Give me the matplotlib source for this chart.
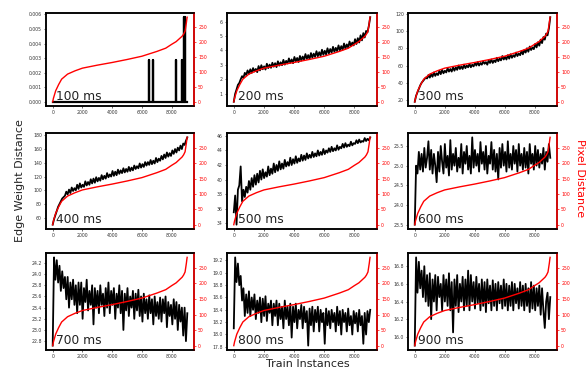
import numpy as np
import matplotlib
matplotlib.use("Agg")
import matplotlib.pyplot as plt

# ---------------- data ----------------
titles = ["100 ms", "200 ms", "300 ms", "400 ms", "500 ms",
          "600 ms", "700 ms", "800 ms", "900 ms"]

# red curve (pixel distance, sorted train instances)
red_x = [0, 50, 200, 400, 600, 1000, 1500, 2000, 3000, 4000, 5000, 6000,
         7000, 7600, 8000, 8300, 8500, 8700, 8800, 8900, 8950, 8990, 9020, 9040]
red_y = [0, 12, 37, 58, 76, 93, 104, 113, 123, 132, 142, 153,
         169, 180, 193, 202, 211, 220, 227, 237, 253, 266, 278, 284]

# 100 ms: almost all zero with a few spikes
spike_x = [6480, 6720, 8290, 8660, 8820, 8870]
spike_h = [0.0029, 0.0029, 0.0029, 0.0029, 0.0058, 0.0058]
last_instance = 9000

e200 = [0.45, 1.00, 1.30, 1.62, 1.75, 2.00, 2.22, 2.10, 2.45, 2.30,
        2.62, 2.38, 2.70, 2.45, 2.78, 2.55, 2.72, 2.50, 2.92, 2.62,
        2.98, 2.70, 2.90, 2.68, 3.08, 2.78, 3.02, 2.80, 3.15, 2.88,
        3.12, 2.85, 3.25, 2.95, 3.18, 2.98, 3.35, 3.02, 3.28, 3.10,
        3.45, 3.15, 3.38, 3.12, 3.55, 3.25, 3.48, 3.20, 3.62, 3.30,
        3.58, 3.35, 3.75, 3.42, 3.68, 3.40, 3.82, 3.50, 3.78, 3.55,
        3.95, 3.60, 3.88, 3.62, 4.05, 3.70, 3.98, 3.72, 4.15, 3.80,
        4.10, 3.85, 4.25, 3.90, 4.18, 3.95, 4.35, 4.00, 4.30, 4.05,
        4.48, 4.12, 4.42, 4.20, 4.62, 4.30, 4.55, 4.35, 4.78, 4.45,
        4.85, 4.55, 5.05, 4.70, 5.20, 4.90, 5.35, 5.25, 5.70, 6.30]

e300 = [18, 25, 29, 33, 37, 40, 42, 44, 46, 45,
        49, 46, 50, 47, 52, 48, 51, 49, 54, 50,
        55, 51, 54, 52, 57, 53, 56, 53, 58, 54,
        58, 55, 60, 56, 59, 56, 61, 57, 60, 58,
        62, 58, 61, 59, 63, 60, 64, 60, 63, 61,
        65, 62, 64, 61, 66, 63, 67, 63, 66, 64,
        69, 65, 68, 66, 71, 67, 70, 67, 72, 68,
        73, 69, 72, 70, 75, 71, 74, 72, 77, 73,
        78, 75, 80, 76, 82, 78, 81, 79, 85, 81,
        87, 83, 90, 86, 93, 90, 97, 95, 103, 116]

e400 = [50, 58, 64, 70, 76, 80, 84, 88, 90, 92,
        98, 94, 101, 96, 104, 99, 103, 100, 108, 102,
        110, 104, 108, 105, 113, 107, 112, 108, 116, 110,
        117, 111, 119, 113, 118, 114, 122, 116, 121, 117,
        125, 119, 123, 120, 128, 121, 127, 122, 130, 124,
        129, 125, 132, 126, 131, 127, 134, 128, 133, 129,
        136, 131, 135, 132, 139, 133, 138, 134, 141, 136,
        141, 137, 144, 138, 143, 139, 147, 141, 146, 143,
        150, 145, 152, 147, 155, 149, 154, 150, 158, 153,
        160, 155, 162, 158, 165, 160, 168, 166, 172, 177]

e500 = [35.5, 37.8, 33.8, 38.6, 39.2, 41.8, 37.0, 38.6, 37.6, 39.0,
        38.2, 39.8, 38.6, 40.2, 39.0, 40.6, 39.3, 40.8, 39.6, 41.2,
        40.0, 41.4, 40.2, 41.0, 40.4, 41.8, 40.6, 41.5, 40.8, 42.2,
        41.0, 42.0, 41.2, 42.5, 41.4, 42.2, 41.5, 42.7, 41.8, 42.4,
        41.9, 43.0, 42.0, 42.8, 42.2, 43.2, 42.3, 42.9, 42.5, 43.4,
        42.6, 43.3, 42.7, 43.6, 42.9, 43.4, 43.0, 43.8, 43.1, 43.6,
        43.2, 44.0, 43.3, 43.8, 43.4, 44.2, 43.5, 44.0, 43.7, 44.3,
        43.8, 44.5, 43.9, 44.3, 44.0, 44.7, 44.1, 44.5, 44.3, 44.9,
        44.4, 45.0, 44.5, 44.8, 44.6, 45.2, 44.7, 45.0, 44.9, 45.4,
        45.0, 45.5, 45.1, 45.3, 45.2, 45.7, 45.3, 45.6, 45.4, 45.8]

e600 = [23.50, 25.00, 24.80, 25.35, 24.90, 25.30, 24.85, 25.45, 24.95, 25.20,
        25.62, 24.90, 25.40, 24.80, 25.30, 25.00, 24.58, 25.35, 24.85, 25.50,
        25.10, 24.80, 25.55, 24.95, 25.25, 24.75, 25.65, 24.90, 25.30, 25.00,
        25.45, 24.85, 25.20, 24.95, 25.55, 24.80, 25.35, 25.05, 25.50, 24.90,
        25.25, 24.80, 25.72, 24.95, 25.40, 25.00, 25.30, 24.85, 25.60, 25.05,
        25.35, 24.90, 25.50, 24.80, 25.25, 25.05, 25.60, 24.90, 25.40, 24.85,
        25.30, 24.65, 25.45, 24.95, 25.55, 25.00, 25.35, 24.85, 25.62, 24.95,
        25.30, 24.90, 25.50, 25.05, 25.40, 24.85, 25.55, 25.00, 25.30, 24.90,
        25.45, 24.95, 25.35, 24.80, 25.55, 25.05, 25.30, 24.90, 25.50, 25.00,
        25.40, 24.95, 25.30, 25.05, 25.45, 24.90, 25.35, 25.10, 25.55, 25.20]

e700 = [22.72, 24.30, 23.90, 24.25, 23.85, 24.15, 23.70, 24.05, 23.75, 23.95,
        23.55, 23.95, 23.40, 23.85, 23.55, 23.90, 23.45, 23.80, 23.30, 23.85,
        23.45, 23.85, 23.20, 23.75, 23.50, 23.90, 23.35, 23.70, 23.45, 23.80,
        23.10, 23.75, 23.40, 23.70, 23.30, 23.80, 23.45, 23.65, 23.25, 23.75,
        23.40, 23.85, 23.30, 23.70, 23.45, 23.75, 23.20, 23.65, 23.40, 23.80,
        23.30, 23.70, 23.00, 23.65, 23.35, 23.75, 23.25, 23.60, 23.40, 23.70,
        23.20, 23.65, 23.35, 23.72, 23.25, 23.60, 23.15, 23.65, 23.30, 23.55,
        23.20, 23.62, 23.30, 23.55, 23.10, 23.60, 23.25, 23.50, 23.20, 23.58,
        23.15, 23.55, 23.30, 23.60, 23.05, 23.50, 23.25, 23.45, 23.10, 23.55,
        23.20, 23.50, 23.00, 23.45, 23.15, 23.40, 22.90, 23.40, 22.80, 23.30]

e800 = [18.10, 19.25, 18.85, 19.15, 18.80, 18.95, 18.55, 18.75, 18.30, 18.65,
        18.35, 18.70, 18.30, 18.60, 18.40, 18.65, 18.25, 18.55, 18.35, 18.60,
        18.20, 18.58, 18.30, 18.62, 18.22, 18.50, 18.35, 18.55, 18.15, 18.50,
        18.30, 18.55, 18.15, 18.50, 18.25, 18.45, 18.10, 18.55, 18.25, 18.45,
        18.15, 18.50, 17.95, 18.45, 18.20, 18.50, 18.10, 18.40, 18.25, 18.48,
        18.10, 18.45, 18.20, 18.38, 17.82, 18.42, 18.15, 18.45, 18.05, 18.40,
        18.20, 18.45, 18.05, 18.40, 18.20, 18.35, 17.85, 18.42, 18.15, 18.38,
        18.10, 18.40, 18.20, 18.35, 18.05, 18.45, 18.15, 18.38, 18.00, 18.40,
        18.20, 18.35, 18.05, 18.42, 18.15, 18.30, 18.00, 18.38, 18.18, 18.35,
        18.05, 18.40, 18.15, 18.30, 17.85, 18.35, 18.00, 18.38, 18.20, 18.40]

e900 = [15.90, 16.90, 16.50, 16.85, 16.55, 16.75, 16.45, 16.80, 16.40, 16.70,
        16.35, 16.72, 16.20, 16.65, 16.40, 16.70, 16.30, 16.68, 16.45, 16.60,
        16.30, 16.70, 16.40, 16.65, 16.35, 16.72, 16.30, 16.62, 16.05, 16.65,
        16.35, 16.70, 16.28, 16.60, 16.40, 16.68, 16.30, 16.65, 16.35, 16.75,
        16.30, 16.70, 16.40, 16.62, 16.32, 16.68, 16.38, 16.60, 16.30, 16.65,
        16.35, 16.62, 16.28, 16.65, 16.38, 16.58, 16.30, 16.64, 16.35, 16.60,
        16.30, 16.62, 16.38, 16.58, 16.32, 16.65, 16.35, 16.60, 16.30, 16.58,
        16.35, 16.62, 16.30, 16.60, 16.38, 16.55, 16.32, 16.62, 16.35, 16.58,
        16.30, 16.60, 16.35, 16.55, 16.28, 16.62, 16.32, 16.58, 16.30, 16.55,
        16.35, 16.58, 16.25, 16.55, 16.30, 16.10, 16.40, 16.50, 16.20, 16.45]

edge_series = [None, e200, e300, e400, e500, e600, e700, e800, e900]

left_ticks = [
    [0.000, 0.001, 0.002, 0.003, 0.004, 0.005, 0.006],
    [1, 2, 3, 4, 5, 6],
    [20, 40, 60, 80, 100, 120],
    [60, 80, 100, 120, 140, 160, 180],
    [34, 36, 38, 40, 42, 44, 46],
    [23.5, 24.0, 24.5, 25.0, 25.5],
    [22.8, 23.0, 23.2, 23.4, 23.6, 23.8, 24.0, 24.2],
    [17.8, 18.0, 18.2, 18.4, 18.6, 18.8, 19.0, 19.2],
    [16.0, 16.2, 16.4, 16.6, 16.8],
]
left_fmt = ["%.3f", "%d", "%d", "%d", "%d", "%.1f", "%.1f", "%.1f", "%.1f"]
x_ticks = [0, 2000, 4000, 6000, 8000]
red_ticks = [0, 50, 100, 150, 200, 250]

# ---------------- layout ----------------
W, H = 587, 368
fig = plt.figure(figsize=(W / 100, H / 100), dpi=100)

col_px = [(46, 194), (227, 377), (408, 557)]
row_px = [(13, 106), (133, 229), (253, 350)]

tick_fs = 3.3
for k in range(9):
    r, c = divmod(k, 3)
    x0, x1 = col_px[c]
    y0, y1 = row_px[r]
    ax = fig.add_axes([x0 / W, 1 - y1 / H, (x1 - x0) / W, (y1 - y0) / H])

    if k == 0:
        xs = [0]
        ys = [0.0]
        for sx, sh in zip(spike_x, spike_h):
            xs += [sx, sx, sx]
            ys += [0.0, sh, 0.0]
        xs.append(last_instance)
        ys.append(0.0)
        ax.plot(xs, ys, color="black", lw=1.6)
        ax.set_ylim(-0.0003, 0.0061)
    else:
        vals = edge_series[k]
        xs = np.linspace(0, 9050, len(vals))
        ax.plot(xs, vals, color="black", lw=1.3)

    ax.set_xlim(-450, 9500)
    ax.set_xticks(x_ticks)
    ax.set_yticks(left_ticks[k])
    ax.set_yticklabels([left_fmt[k] % v for v in left_ticks[k]])
    ax.tick_params(labelsize=tick_fs, length=1.5, width=0.5, pad=1.5,
                   colors="#333333")
    for s in ax.spines.values():
        s.set_linewidth(1.1)

    ax2 = ax.twinx()
    ax2.plot(red_x, red_y, color="red", lw=1.0)
    ax2.set_ylim(-14, 298)
    ax2.set_yticks(red_ticks)
    ax2.tick_params(axis="y", labelsize=tick_fs, length=1.5, width=0.5,
                    pad=1.5, colors="red")
    for s in ax2.spines.values():
        s.set_linewidth(1.1)
    ax2.spines["right"].set_color("red")

    ax.text(0.07, 0.03, titles[k], transform=ax.transAxes, fontsize=8.8,
            color="#222222", ha="left", va="bottom", zorder=10)

fig.text(0.034, 0.51, "Edge Weight Distance", rotation=90, fontsize=8,
         ha="center", va="center", color="#222222")
fig.text(0.988, 0.515, "Pixel Distance", rotation=-90, fontsize=8,
         ha="center", va="center", color="red")
fig.text(0.525, 0.011, "Train Instances", fontsize=8,
         ha="center", va="center", color="#222222")

fig.savefig("out.png", dpi=100)
